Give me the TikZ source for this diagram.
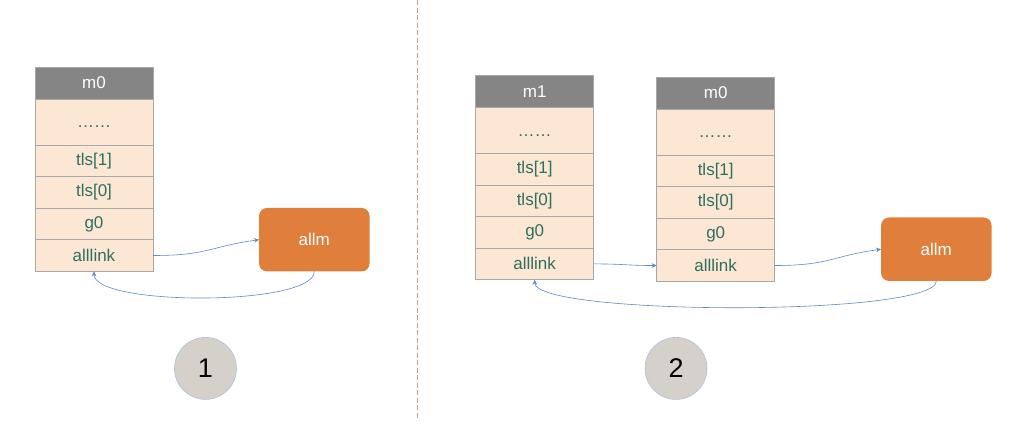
\documentclass[tikz,border=0pt]{standalone}
\usepackage{fontspec}
\setmainfont{Liberation Sans}
\usetikzlibrary{arrows.meta}
\definecolor{hdrfill}{HTML}{858585}
\definecolor{cellfill}{HTML}{FBE7D3}
\definecolor{cellborder}{HTML}{A8A8A8}
\definecolor{celltext}{HTML}{2F6F5F}
\definecolor{allmfill}{HTML}{E07E3C}
\definecolor{linkcol}{HTML}{5B8BC9}
\definecolor{sepcol}{HTML}{E86060}
\definecolor{circfill}{HTML}{D6D0CA}
\definecolor{circborder}{HTML}{A9C4E0}
\tikzset{
  cellbox/.style={draw=cellborder, line width=0.8pt, fill=cellfill, minimum width=118pt,
    minimum height=31.6pt, inner sep=0pt, outer sep=0pt, text=celltext, font=\fontsize{17}{20}\selectfont},
  hdrbox/.style={cellbox, fill=hdrfill, text=white},
  allmbox/.style={fill=allmfill, rounded corners=8pt, minimum width=110.5pt, minimum height=63.5pt,
    inner sep=0pt, outer sep=0pt, text=white, font=\fontsize{17}{20}\selectfont},
  linkarrow/.style={draw=linkcol, line width=0.6pt, -{Stealth[length=5pt,width=4.5pt]}},
  numcircle/.style={circle, fill=circfill, draw=circborder, line width=0.6pt, minimum size=62pt,
    inner sep=0pt, font=\fontsize{27}{30}\selectfont},
  sepline/.style={draw=sepcol!70!white, line width=1.2pt, dash pattern=on 5pt off 2.5pt}
}
\newcommand{\mcolumn}[4]{%
  \node[hdrbox, anchor=north west] (#1h) at (#2,#3) {#4};
  \node[cellbox, minimum height=46pt, anchor=north] (#1d) at (#1h.south) {\vphantom{tl}……};
  \node[cellbox, anchor=north] (#1t) at (#1d.south) {tls[1]};
  \node[cellbox, anchor=north] (#1z) at (#1t.south) {tls[0]};
  \node[cellbox, anchor=north] (#1g) at (#1z.south) {g0};
  \node[cellbox, anchor=north] (#1a) at (#1g.south) {alllink};
}
\begin{document}
\begin{tikzpicture}[x=1pt,y=-1pt]
\useasboundingbox[fill=white] (0,0) rectangle (1036,424);
% separator
\coordinate (septop) at (417.5,0);
\coordinate (sepbot) at (417.5,420);
\draw[sepline] (septop) -- (sepbot);
% panel 1
\mcolumn{pa}{35}{67.3}{m0}
\node[allmbox] (allma) at (314.3,239.7) {allm};
\draw[linkarrow] (paa.east) .. controls +(55,0) and +(-50,7) .. (allma.west);
\draw[linkarrow] (allma.south) .. controls +(0,35) and +(0,35) .. (paa.south);
\node[numcircle] (c1) at (205.5,368.4) {1};
% panel 2
\mcolumn{pb}{475.7}{75.7}{m1}
\mcolumn{pc}{656.7}{77.3}{m0}
\node[allmbox] (allmb) at (936.3,249.2) {allm};
\draw[linkarrow] (pba.east) .. controls +(30,0) and +(-30,0) .. (pca.west);
\draw[linkarrow] (pca.east) .. controls +(55,0) and +(-50,7) .. (allmb.west);
\draw[linkarrow] (allmb.south) .. controls +(0,36) and +(0,36) .. (pba.south);
\node[numcircle] (c2) at (676,368.4) {2};
\end{tikzpicture}
\end{document}
